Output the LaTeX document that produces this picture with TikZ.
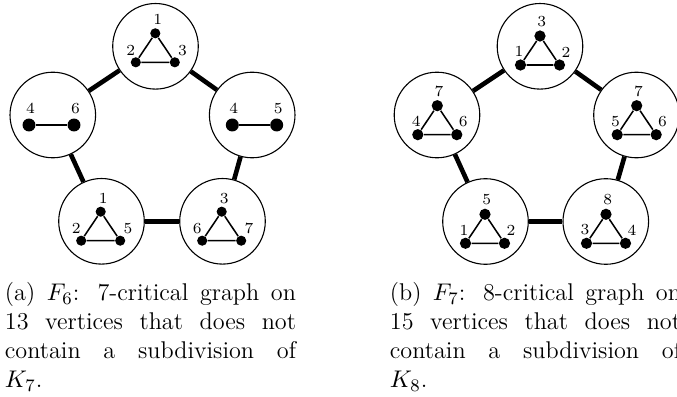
\documentclass[tikz,border=0pt]{standalone}
\usetikzlibrary{calc}

% label offsets of a triangle cluster: top, left, right (dx,dy each)
\newcommand\trioffsets[6]{\def\tlx{#1}\def\tly{#2}\def\llx{#3}\def\lly{#4}\def\rlx{#5}\def\rly{#6}}

% triangle cluster: prefix, x and y of the top vertex, labels (top, left, right), dot style
\newcommand\tricluster[7]{%
  \node[#7] (#1t) at (#2,#3) {};
  \node[#7] (#1l) at (#2-19.5,#3+29) {};
  \node[#7] (#1r) at (#2+19.5,#3+29) {};
  \draw[edge] (#1t) -- (#1l) -- (#1r) -- (#1t);
  \node[lab] (#1tt) at (#2+\tlx,#3+\tly) {#4};
  \node[lab] (#1lt) at (#2-19.5+\llx,#3+29+\lly) {#5};
  \node[lab] (#1rt) at (#2+19.5+\rlx,#3+29+\rly) {#6};
}

% two joined vertices: prefix, x1, x2, y, labels
\newcommand\paircluster[6]{%
  \node[dotP] (#1a) at (#2,#4) {};
  \node[dotP] (#1b) at (#3,#4) {};
  \draw[edge] (#1a) -- (#1b);
  \node[lab] (#1at) at (#2+1.5,#4-16.7) {#5};
  \node[lab] (#1bt) at (#3+1.5,#4-16.7) {#6};
}

\newlength\capw
\setlength\capw{132.3pt}

\begin{document}
\begin{tikzpicture}[x=0.4545pt,y=-0.4545pt,
  cluster/.style={circle,draw,line width=0.5pt,minimum size=38.9pt,inner sep=0pt},
  conn/.style={line width=2.1pt},
  edge/.style={line width=0.7pt},
  dotA/.style={circle,fill,inner sep=0pt,minimum size=4.6pt},
  dotP/.style={circle,fill,inner sep=0pt,minimum size=5.9pt},
  dotB/.style={circle,fill,inner sep=0pt,minimum size=5.1pt},
  lab/.style={font=\scriptsize,inner sep=0pt},
  captext/.style={inner sep=0pt,anchor=north west,align=left,
    font=\fontsize{11pt}{13.2pt}\selectfont}]
\clip (0,0) rectangle (677,397);

% ---- F_6 ----
\node[cluster] (a1) at (155.5,46.3) {};
\node[cluster] (a2) at (52.8,115) {};
\node[cluster] (a3) at (252.2,115) {};
\node[cluster] (a4) at (101.5,221.3) {};
\node[cluster] (a5) at (222.5,221.3) {};
\draw[conn] (a1) -- (a2);
\draw[conn] (a1) -- (a3);
\draw[conn] (a2) -- (a4);
\draw[conn] (a3) -- (a5);
\draw[conn] (a4) -- (a5);

\trioffsets{2.5}{-13.5}{-5}{-12}{7.7}{-12}
\tricluster{p}{155.3}{33.3}{1}{2}{3}{dotA}
\tricluster{q}{100.7}{211.7}{1}{2}{5}{dotA}
\tricluster{r}{221.7}{211.7}{3}{6}{7}{dotA}
\paircluster{s}{29}{74}{125}{4}{6}
\paircluster{u}{232.3}{276.7}{125}{4}{5}

\node[captext] (capa) at (4.5,281.8) {%
  \makebox[\capw][s]{(a) $F_6$: 7-critical graph on}\\
  \makebox[\capw][s]{13 vertices that does not}\\
  \makebox[\capw][s]{contain a subdivision of}\\
  $K_7$.};

% ---- F_7 ----
\node[cluster] (b1) at (540,46.3) {};
\node[cluster] (b2) at (437,115) {};
\node[cluster] (b3) at (636.5,115) {};
\node[cluster] (b4) at (485.5,221.5) {};
\node[cluster] (b5) at (605.8,221.5) {};
\draw[conn] (b1) -- (b2);
\draw[conn] (b1) -- (b3);
\draw[conn] (b2) -- (b4);
\draw[conn] (b3) -- (b5);
\draw[conn] (b4) -- (b5);

\trioffsets{1.8}{-14.5}{-1.6}{-13.3}{6.4}{-13}
\tricluster{g}{540}{36}{3}{1}{2}{dotB}
\tricluster{h}{437.3}{105.7}{7}{4}{6}{dotB}
\tricluster{k}{636.7}{105.7}{7}{5}{6}{dotB}
\tricluster{m}{485}{214.3}{5}{1}{2}{dotB}
\tricluster{n}{606}{214.3}{8}{3}{4}{dotB}

\node[captext] (capb) at (389.5,281.8) {%
  \makebox[\capw][s]{(b) $F_7$: 8-critical graph on}\\
  \makebox[\capw][s]{15 vertices that does not}\\
  \makebox[\capw][s]{contain a subdivision of}\\
  $K_8$.};
\end{tikzpicture}
\end{document}
